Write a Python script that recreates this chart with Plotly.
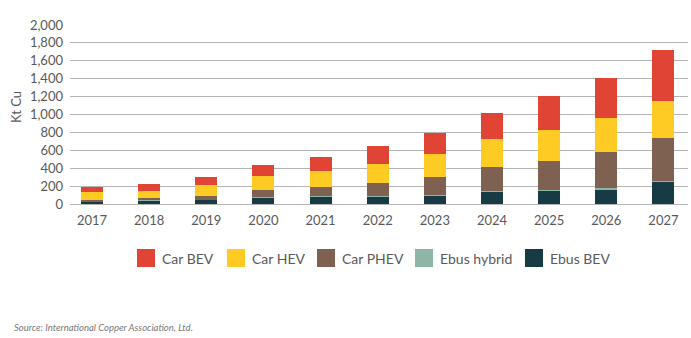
import plotly.graph_objects as go

years = ["2017", "2018", "2019", "2020", "2021", "2022", "2023", "2024", "2025", "2026", "2027"]
ebus_bev = [28, 40, 45, 75, 83, 87, 98, 136, 147, 167, 248]
ebus_hybrid = [3, 3, 4, 5, 5, 6, 6, 7, 7, 8, 8]
car_phev = [19, 29, 42, 71, 101, 145, 198, 276, 329, 403, 477]
car_hev = [82, 75, 117, 158, 181, 211, 253, 309, 343, 381, 423]
car_bev = [60, 76, 94, 125, 158, 200, 237, 291, 378, 445, 566]

series = [
    ("Ebus BEV", ebus_bev, "#163B44"),
    ("Ebus hybrid", ebus_hybrid, "#8FB5A6"),
    ("Car PHEV", car_phev, "#7F6151"),
    ("Car HEV", car_hev, "#FDCB24"),
    ("Car BEV", car_bev, "#E04434"),
]

W, H = 691, 338
L, R, T, B = 70, 3, 25, 134
pw, ph = W - L - R, H - T - B

fig = go.Figure()
for name, vals, col in series:
    fig.add_trace(go.Bar(x=years, y=vals, name=name, marker=dict(color=col, line=dict(width=0)),
                         showlegend=False))

FONT = "Lato"
GREY = "#595959"

def px2x(px):
    return (px - L) / pw

def py2y(py):
    return (H - B - py) / ph

shapes = []
annotations = []
legend_items = [
    ("Car BEV", "#E04434", 137),
    ("Car HEV", "#FDCB24", 227),
    ("Car PHEV", "#7F6151", 317),
    ("Ebus hybrid", "#8FB5A6", 415),
    ("Ebus BEV", "#163B44", 525),
]
for name, col, x0 in legend_items:
    shapes.append(dict(type="rect", xref="paper", yref="paper",
                       x0=px2x(x0), x1=px2x(x0 + 18), y0=py2y(249), y1=py2y(267),
                       fillcolor=col, line=dict(width=0)))
    annotations.append(dict(text=name, xref="paper", yref="paper", x=px2x(x0 + 23), y=py2y(258),
                            xanchor="left", yanchor="middle", showarrow=False,
                            font=dict(family=FONT, size=14, color=GREY)))

annotations.append(dict(text="Kt Cu", xref="paper", yref="paper", x=px2x(16), y=py2y(107),
                        textangle=-90, xanchor="center", yanchor="middle", showarrow=False,
                        font=dict(family=FONT, size=13, color=GREY)))
annotations.append(dict(text="<i>Source: International Copper Association, Ltd.</i>", xref="paper", yref="paper",
                        x=px2x(12), y=py2y(327), xanchor="left", yanchor="middle", showarrow=False,
                        font=dict(family=FONT, size=9.5, color="#777777")))

fig.update_layout(
    barmode="stack",
    bargap=0.615,
    width=W, height=H,
    margin=dict(l=L, r=R, t=T, b=B, autoexpand=False),
    plot_bgcolor="white", paper_bgcolor="white",
    font=dict(family=FONT, size=13, color=GREY),
    xaxis=dict(type="category", range=[-0.385, 10.43], showgrid=False, showline=False,
               ticks="", ticklabelstandoff=7, tickfont=dict(size=13, color=GREY)),
    yaxis=dict(range=[0, 2000], dtick=200, tickformat=",d", showgrid=True, gridcolor="#B4B4B4",
               gridwidth=1.3, zeroline=True, zerolinecolor="#B4B4B4", zerolinewidth=1.3,
               showline=False, ticks="", ticklabelstandoff=6, tickfont=dict(size=13, color=GREY)),
    shapes=shapes,
    annotations=annotations,
)

fig.write_html("out.html")
